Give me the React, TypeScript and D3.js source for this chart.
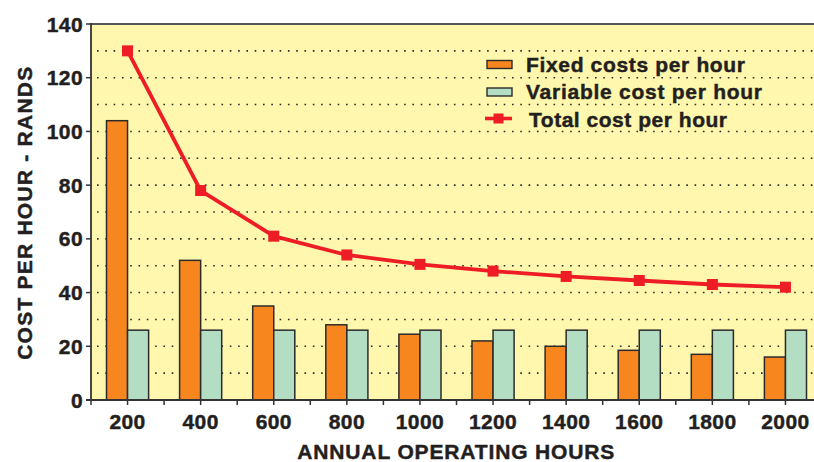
import React from "react";
import * as d3 from "d3";

const categories = ["200", "400", "600", "800", "1000", "1200", "1400", "1600", "1800", "2000"];
const fixedCosts = [104, 52, 35, 28, 24.5, 22, 20, 18.5, 17, 16];
const variableCosts = [26, 26, 26, 26, 26, 26, 26, 26, 26, 26];
const totalCosts = [130, 78, 61, 54, 50.5, 48, 46, 44.5, 43, 42];
const yTicks = [0, 20, 40, 60, 80, 100, 120, 140];
const gridValues = [10, 20, 30, 40, 50, 60, 70, 80, 90, 100, 110, 120, 130];
const legendLabels = ["Fixed costs per hour", "Variable cost per hour", "Total cost per hour"];

const W = 814;
const H = 462;
const left = 91;
const right = 822;
const top = 24;
const bottom = 400;

const FONT = "'Liberation Sans', Arial, sans-serif";
const ORANGE = "#F7861E";
const GREEN = "#B3DEC3";
const RED = "#EE1C25";
const BG = "#FFF7AD";
const INK = "#231F20";

const textStyle = { fontWeight: "bold" as const, fill: INK, stroke: INK, strokeWidth: 0.45 };

export default function App() {
  const x = d3.scaleBand<string>().domain(categories).range([left, right]).padding(0);
  const y = d3.scaleLinear().domain([0, 140]).range([bottom, top]);
  const bw = x.bandwidth();
  const barW = bw * 0.288;
  const cx = (c: string) => (x(c) as number) + bw / 2;

  const line = d3
    .line<number>()
    .x((_, i) => cx(categories[i]))
    .y((d) => y(d));

  const halfTicks: number[] = [];
  categories.forEach((c) => {
    halfTicks.push(x(c) as number);
    halfTicks.push(cx(c));
  });
  halfTicks.push(right);

  const legX = 487;
  const legY = [64.5, 92, 118.5];

  return (
    <svg
      width={W}
      height={H}
      style={{ position: "absolute", left: 0, top: 0, background: "#fff" }}
      fontFamily={FONT}
    >
      <rect x={left} y={top} width={right - left} height={bottom - top} fill={BG} />
      {gridValues.map((g) => (
        <line
          key={g}
          x1={left + 6}
          x2={right}
          y1={y(g)}
          y2={y(g)}
          stroke="#2a2a2a"
          strokeWidth={1.6}
          strokeDasharray="1.6 6.7"
        />
      ))}
      <line x1={left} x2={right} y1={top} y2={top} stroke="#555" strokeWidth={1.8} />

      {categories.map((c, i) => (
        <g key={c}>
          <rect
            x={cx(c) - barW}
            y={y(fixedCosts[i])}
            width={barW}
            height={y(0) - y(fixedCosts[i])}
            fill={ORANGE}
            stroke="#2b2b2b"
            strokeWidth={1.5}
          />
          <rect
            x={cx(c)}
            y={y(variableCosts[i])}
            width={barW}
            height={y(0) - y(variableCosts[i])}
            fill={GREEN}
            stroke="#2b2b2b"
            strokeWidth={1.5}
          />
        </g>
      ))}

      <path d={line(totalCosts) || ""} fill="none" stroke={RED} strokeWidth={3.8} strokeLinejoin="round" />
      {totalCosts.map((v, i) => (
        <rect key={i} x={cx(categories[i]) - 5.5} y={y(v) - 5.5} width={11} height={11} fill={RED} />
      ))}

      {/* axes */}
      <line x1={left} x2={left} y1={top - 1} y2={bottom} stroke="#333" strokeWidth={1.8} />
      <line x1={left - 5} x2={right} y1={bottom} y2={bottom} stroke="#333" strokeWidth={1.8} />
      {yTicks.map((t) => (
        <g key={t}>
          <line x1={left - 5} x2={left} y1={y(t)} y2={y(t)} stroke="#333" strokeWidth={1.5} />
          <text
            x={left - 8}
            y={y(t)}
            dy="0.36em"
            textAnchor="end"
            fontSize={21}
            letterSpacing={0.4}
            style={textStyle}
          >
            {t}
          </text>
        </g>
      ))}
      {halfTicks.map((t, i) => (
        <line key={i} x1={t} x2={t} y1={bottom} y2={bottom + 5} stroke="#333" strokeWidth={1.5} />
      ))}
      {categories.map((c) => (
        <text key={c} x={cx(c)} y={429} textAnchor="middle" fontSize={21} letterSpacing={0.4} style={textStyle}>
          {c}
        </text>
      ))}

      <text
        x={455.8}
        y={459.3}
        textAnchor="middle"
        fontSize={21}
        textLength={317}
        lengthAdjust="spacing"
        style={textStyle}
      >
        ANNUAL OPERATING HOURS
      </text>
      <text
        transform={`translate(31.7, 213.3) rotate(-90)`}
        textAnchor="middle"
        fontSize={21}
        textLength={293}
        lengthAdjust="spacing"
        style={textStyle}
      >
        COST PER HOUR - RANDS
      </text>

      {/* legend */}
      <rect x={legX} y={legY[0] - 4} width={25} height={8} fill={ORANGE} stroke="#2b2b2b" strokeWidth={1.4} />
      <rect x={legX} y={legY[1] - 4} width={25} height={8} fill={GREEN} stroke="#2b2b2b" strokeWidth={1.4} />
      <line x1={legX - 2} x2={legX + 25} y1={legY[2]} y2={legY[2]} stroke={RED} strokeWidth={3.6} />
      <rect x={legX + 6.5} y={legY[2] - 5} width={10} height={10} fill={RED} />
      <text x={526} y={71.5} fontSize={21} textLength={219} lengthAdjust="spacing" style={textStyle}>
        {legendLabels[0]}
      </text>
      <text x={526} y={99} fontSize={21} textLength={236} lengthAdjust="spacing" style={textStyle}>
        {legendLabels[1]}
      </text>
      <text x={529} y={126.5} fontSize={21} textLength={198} lengthAdjust="spacing" style={textStyle}>
        {legendLabels[2]}
      </text>
    </svg>
  );
}
